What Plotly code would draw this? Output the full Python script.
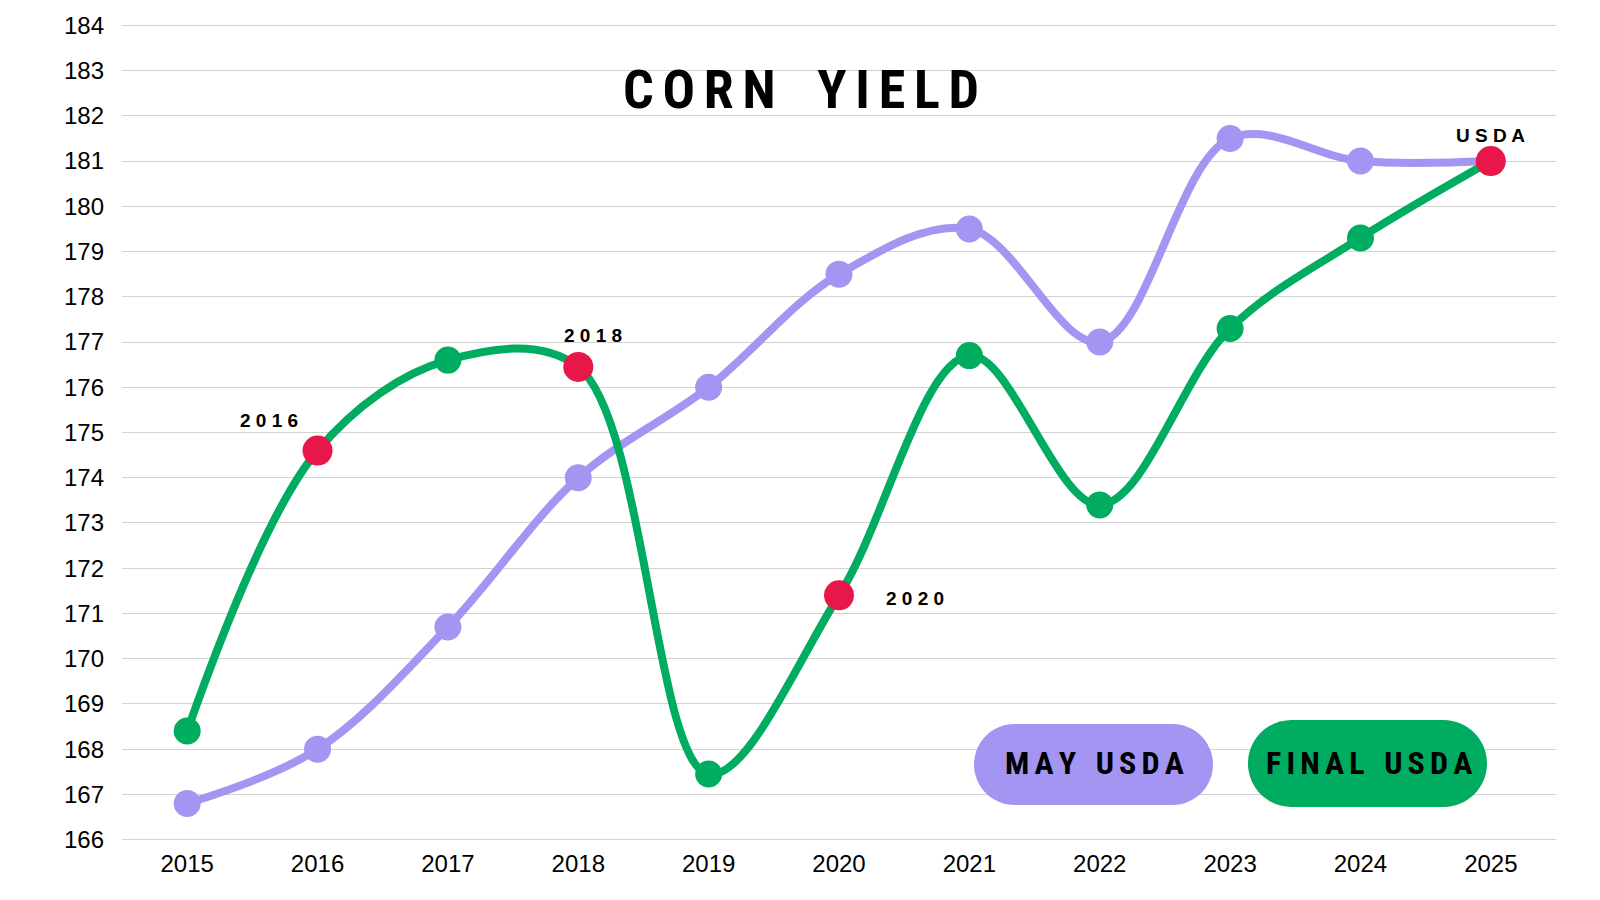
import plotly.graph_objects as go

years = [2015, 2016, 2017, 2018, 2019, 2020, 2021, 2022, 2023, 2024, 2025]
may_usda = [166.8, 168.0, 170.7, 174.0, 176.0, 178.5, 179.5, 177.0, 181.5, 181.0, 181.0]
final_usda = [168.4, 174.6, 176.6, 176.45, 167.45, 171.4, 176.7, 173.4, 177.3, 179.3, 181.0]
highlight_years = [2016, 2018, 2020, 2025]
highlight_labels = ["2016", "2018", "2020", "USDA"]
y_ticks = list(range(166, 185))

PURPLE = "#A595F2"
GREEN = "#00AC5F"
RED = "#E8174A"
COND = "Roboto Condensed, DejaVu Sans Condensed, Liberation Sans Narrow, Roboto"

W, H = 1600, 900
L, R, T, B = 122, 44, 24, 59
PW, PH = W - L - R, H - T - B

def px_x(p):
    return (p - L) / PW

def px_y(p):
    return (H - B - p) / PH

def spaced(s, sep, wordsep):
    return wordsep.join(sep.join(list(w)) for w in s.split(" "))

fig = go.Figure()
fig.add_trace(go.Scatter(x=years, y=may_usda, mode="lines+markers",
                         line=dict(color=PURPLE, width=8, shape="spline", smoothing=1.0),
                         marker=dict(color=PURPLE, size=27), name="May USDA", showlegend=False))
fig.add_trace(go.Scatter(x=years, y=final_usda, mode="lines+markers",
                         line=dict(color=GREEN, width=8, shape="spline", smoothing=1.0),
                         marker=dict(color=GREEN, size=27), name="Final USDA", showlegend=False))
hl_vals = [final_usda[years.index(y)] for y in highlight_years]
fig.add_trace(go.Scatter(x=highlight_years, y=hl_vals, mode="markers",
                         marker=dict(color=RED, size=30), showlegend=False))

label_shifts = {"2016": (-49, 30), "2018": (15, 31), "2020": (76, -3), "USDA": (0, 26)}
for yv, lab, val in zip(highlight_years, highlight_labels, hl_vals):
    dx, dy = label_shifts[lab]
    fig.add_annotation(x=yv, y=val, text="<b>" + " ".join(lab) + "</b>", showarrow=False,
                       xshift=dx, yshift=dy, xanchor="center", yanchor="middle",
                       font=dict(family="Liberation Sans, Arial", size=19, color="#000"))

# title
fig.add_annotation(x=px_x(801), y=px_y(89), xref="paper", yref="paper",
                   text="<b>" + spaced("CORN YIELD", "\u2006", "\u2002\u2006\u2006") + "</b>", showarrow=False,
                   font=dict(family=COND, size=54, color="#000"),
                   xanchor="center", yanchor="middle")

def pill(x0, x1, y0, y1, color):
    r = (y1 - y0) / 2
    k = 0.5523 * r
    X, Y = px_x, px_y
    path = (f"M {X(x0 + r)} {Y(y0)} L {X(x1 - r)} {Y(y0)} "
            f"C {X(x1 - r + k)} {Y(y0)} {X(x1)} {Y(y0 + r - k)} {X(x1)} {Y(y0 + r)} "
            f"C {X(x1)} {Y(y0 + r + k)} {X(x1 - r + k)} {Y(y1)} {X(x1 - r)} {Y(y1)} "
            f"L {X(x0 + r)} {Y(y1)} "
            f"C {X(x0 + r - k)} {Y(y1)} {X(x0)} {Y(y0 + r + k)} {X(x0)} {Y(y0 + r)} "
            f"C {X(x0)} {Y(y0 + r - k)} {X(x0 + r - k)} {Y(y0)} {X(x0 + r)} {Y(y0)} Z")
    fig.add_shape(type="path", path=path, xref="paper", yref="paper",
                  fillcolor=color, line=dict(width=0), layer="above")

pill(974, 1213, 724, 805, PURPLE)
pill(1248, 1487, 720, 807, GREEN)
for cx, cy, txt in [(1094, 763, "MAY USDA"), (1369, 763, "FINAL USDA")]:
    fig.add_annotation(x=px_x(cx), y=px_y(cy), xref="paper", yref="paper",
                       text="<b>" + spaced(txt, "\u2006", "\u2002\u2006") + "</b>",
                       showarrow=False, xanchor="center", yanchor="middle",
                       font=dict(family=COND, size=32, color="#000"))

fig.update_layout(
    width=W, height=H,
    margin=dict(l=L, r=R, t=T, b=B),
    paper_bgcolor="white", plot_bgcolor="white",
    xaxis=dict(range=[2014.5, 2025.5], tickvals=years, ticktext=[str(y) for y in years],
               showgrid=False, zeroline=False, showline=False, ticks="", ticklabelstandoff=6,
               tickfont=dict(family="Liberation Sans, Arial", size=24, color="#000")),
    yaxis=dict(range=[165.97, 184.03], tickvals=y_ticks, showgrid=True, gridcolor="#d2d2d2", gridwidth=1.3,
               zeroline=False, showline=False, ticks="", ticklabelstandoff=17,
               tickfont=dict(family="Liberation Sans, Arial", size=24, color="#000")),
)
fig.write_html("out.html", config={"displayModeBar": False},
               post_script="document.body.style.margin='0';document.body.style.overflow='hidden';")
